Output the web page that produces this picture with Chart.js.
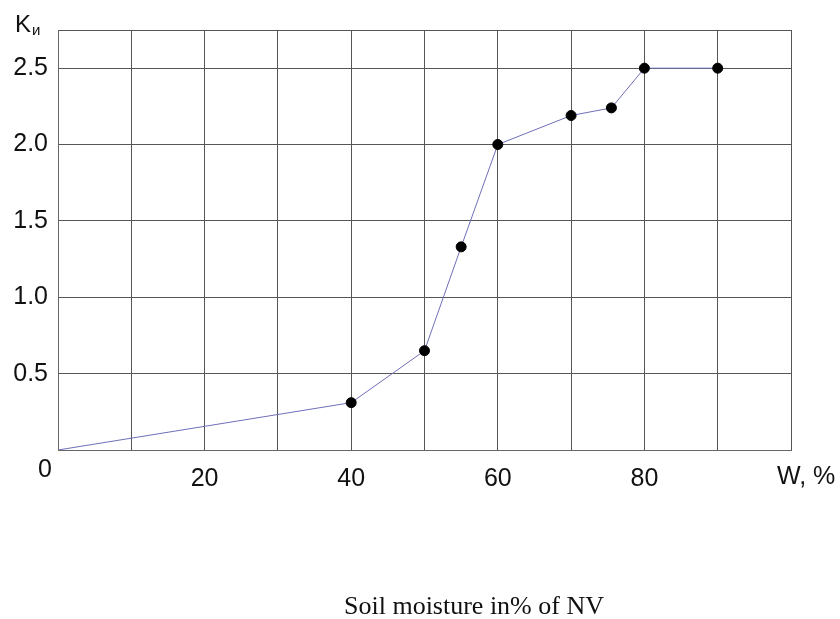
<!DOCTYPE html>
<html>
<head>
<meta charset="utf-8">
<script src="https://cdn.jsdelivr.net/npm/chart.js@4"></script>
<style>
  body { margin: 0; background: #fff; }
</style>
</head>
<body>
<canvas id="grafica" width="840" height="619"></canvas>
<script>
// humedad del suelo (W, %) y coeficiente K
var xValues = [0, 40, 50, 55, 60, 70, 75.5, 80, 90];
var yValues = [0, 0.31, 0.65, 1.33, 2.0, 2.19, 2.24, 2.5, 2.5];
var xLabels = [20, 40, 60, 80];
var yLabels = [0.5, 1.0, 1.5, 2.0, 2.5];
var titulo = "Soil moisture in% of NV";

var puntos = [];
for (var i = 0; i < xValues.length; i++) {
    puntos.push({ x: xValues[i], y: yValues[i] });
}

var textos = {
    id: 'textos',
    afterDraw: function (chart) {
        var ctx = chart.ctx;
        ctx.save();
        ctx.fillStyle = '#111';
        ctx.textBaseline = 'alphabetic';
        ctx.textAlign = 'left';
        ctx.font = '24px "Liberation Sans", Arial, sans-serif';
        ctx.fillText('K', 15, 32);
        ctx.font = '15px "Liberation Sans", Arial, sans-serif';
        ctx.fillText('и', 32, 35);
        ctx.font = '25px "Liberation Sans", Arial, sans-serif';
        ctx.fillText('0', 38, 477);
        ctx.fillText('W, %', 777, 484);
        ctx.font = '26px "Liberation Serif", "Times New Roman", serif';
        ctx.textAlign = 'center';
        ctx.fillText(titulo, 474, 614);
        ctx.restore();
    }
};

new Chart("grafica", {
    type: "line",
    data: {
        datasets: [{
            data: puntos,
            borderColor: "#6f6fb8",
            borderWidth: 1,
            pointRadius: [0, 5, 5, 5, 5, 5, 5, 5, 5],
            pointBackgroundColor: "#000",
            pointBorderColor: "#000",
            tension: 0
        }]
    },
    options: {
        responsive: false,
        animation: false,
        layout: { padding: { top: 30, right: 49, left: 0, bottom: 0 } },
        plugins: {
            legend: { display: false },
            tooltip: { enabled: false }
        },
        scales: {
            x: {
                type: 'linear',
                min: 0,
                max: 100,
                afterFit: function (s) { s.height = 169; },
                afterBuildTicks: function (s) {
                    var t = [];
                    for (var v = 0; v <= 100; v += 10) t.push({ value: v });
                    s.ticks = t;
                },
                grid: { color: '#555', lineWidth: 1, drawTicks: false },
                border: { color: '#666', width: 1 },
                ticks: {
                    padding: 14,
                    color: '#111',
                    font: { family: '"Liberation Sans", Arial, sans-serif', size: 25 },
                    maxRotation: 0,
                    autoSkip: false,
                    callback: function (v) { return xLabels.indexOf(v) >= 0 ? String(v) : ''; }
                }
            },
            y: {
                min: 0,
                max: 2.75,
                afterFit: function (s) { s.width = 58; },
                afterBuildTicks: function (s) {
                    var t = [{ value: 0 }];
                    yLabels.forEach(function (v) { t.push({ value: v }); });
                    t.push({ value: 2.75 });
                    s.ticks = t;
                },
                grid: { color: '#555', lineWidth: 1, drawTicks: false },
                border: { color: '#666', width: 1 },
                ticks: {
                    padding: 10,
                    color: '#111',
                    font: { family: '"Liberation Sans", Arial, sans-serif', size: 25 },
                    callback: function (v) { return yLabels.indexOf(v) >= 0 ? v.toFixed(1) : ''; }
                }
            }
        }
    },
    plugins: [textos]
});
</script>
</body>
</html>
